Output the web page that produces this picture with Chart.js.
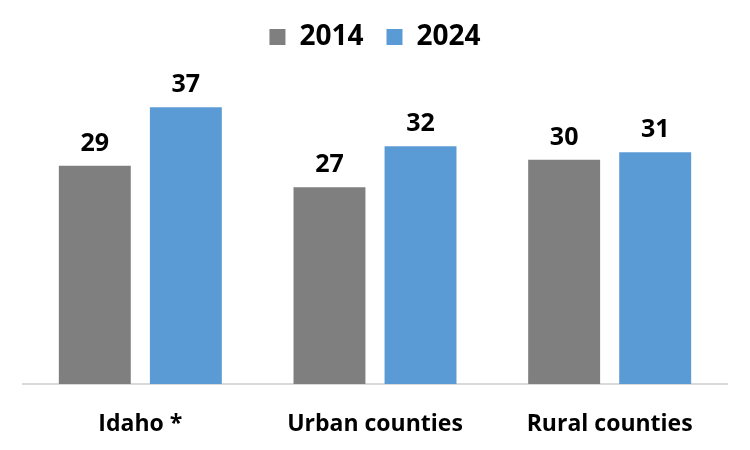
<!DOCTYPE html>
<html><head><meta charset="utf-8">
<script src="https://cdn.jsdelivr.net/npm/chart.js@4.4.1/dist/chart.umd.min.js"></script>
<style>html,body{margin:0;padding:0;background:#fff}</style>
</head><body>
<canvas id="c" width="750" height="450"></canvas>
<script>
const categories = ['Idaho *', 'Urban counties', 'Rural counties'];
const seriesNames = ['2014', '2024'];
const values2014 = [29.2, 26.3, 30.0];
const values2024 = [37.0, 31.8, 31.0];
const labels2014 = ['29', '27', '30'];
const labels2024 = ['37', '32', '31'];
const seriesColors = ['#7f7f7f', '#5b9bd5'];
const FONT = "'Open Sans', sans-serif";

const valueLabels = {
  id: 'valueLabels',
  afterDatasetsDraw(chart) {
    const ctx = chart.ctx;
    ctx.save();
    ctx.fillStyle = '#000';
    ctx.font = 'bold 25px ' + FONT;
    ctx.textAlign = 'center';
    ctx.textBaseline = 'alphabetic';
    chart.data.datasets.forEach((ds, i) => {
      const meta = chart.getDatasetMeta(i);
      meta.data.forEach((bar, j) => {
        ctx.fillText(ds.valueText[j], bar.x, bar.y - 15);
      });
    });
    ctx.restore();
  }
};

new Chart(document.getElementById('c'), {
  type: 'bar',
  data: {
    labels: categories,
    datasets: [
      { label: seriesNames[0], data: values2014, valueText: labels2014, backgroundColor: seriesColors[0] },
      { label: seriesNames[1], data: values2024, valueText: labels2024, backgroundColor: seriesColors[1] }
    ]
  },
  options: {
    responsive: false,
    devicePixelRatio: 1,
    animation: false,
    categoryPercentage: 0.776,
    barPercentage: 0.79,
    layout: { padding: { left: 23, right: 23, top: 0, bottom: 0 } },
    plugins: {
      tooltip: { enabled: false },
      legend: {
        position: 'top',
        labels: {
          boxWidth: 16, boxHeight: 16, padding: 23,
          color: '#000',
          font: { family: FONT, size: 28, weight: 'bold' }
        }
      }
    },
    scales: {
      x: {
        grid: { display: false, drawTicks: false },
        border: { display: true, color: '#d9d9d9', width: 2 },
        ticks: { color: '#000', padding: 27, font: { family: FONT, size: 23, weight: 'bold' } },
        afterFit(scale) { scale.height = 66; }
      },
      y: {
        display: false,
        min: 0,
        max: 43.2
      }
    }
  },
  plugins: [valueLabels]
});
</script>
</body></html>
